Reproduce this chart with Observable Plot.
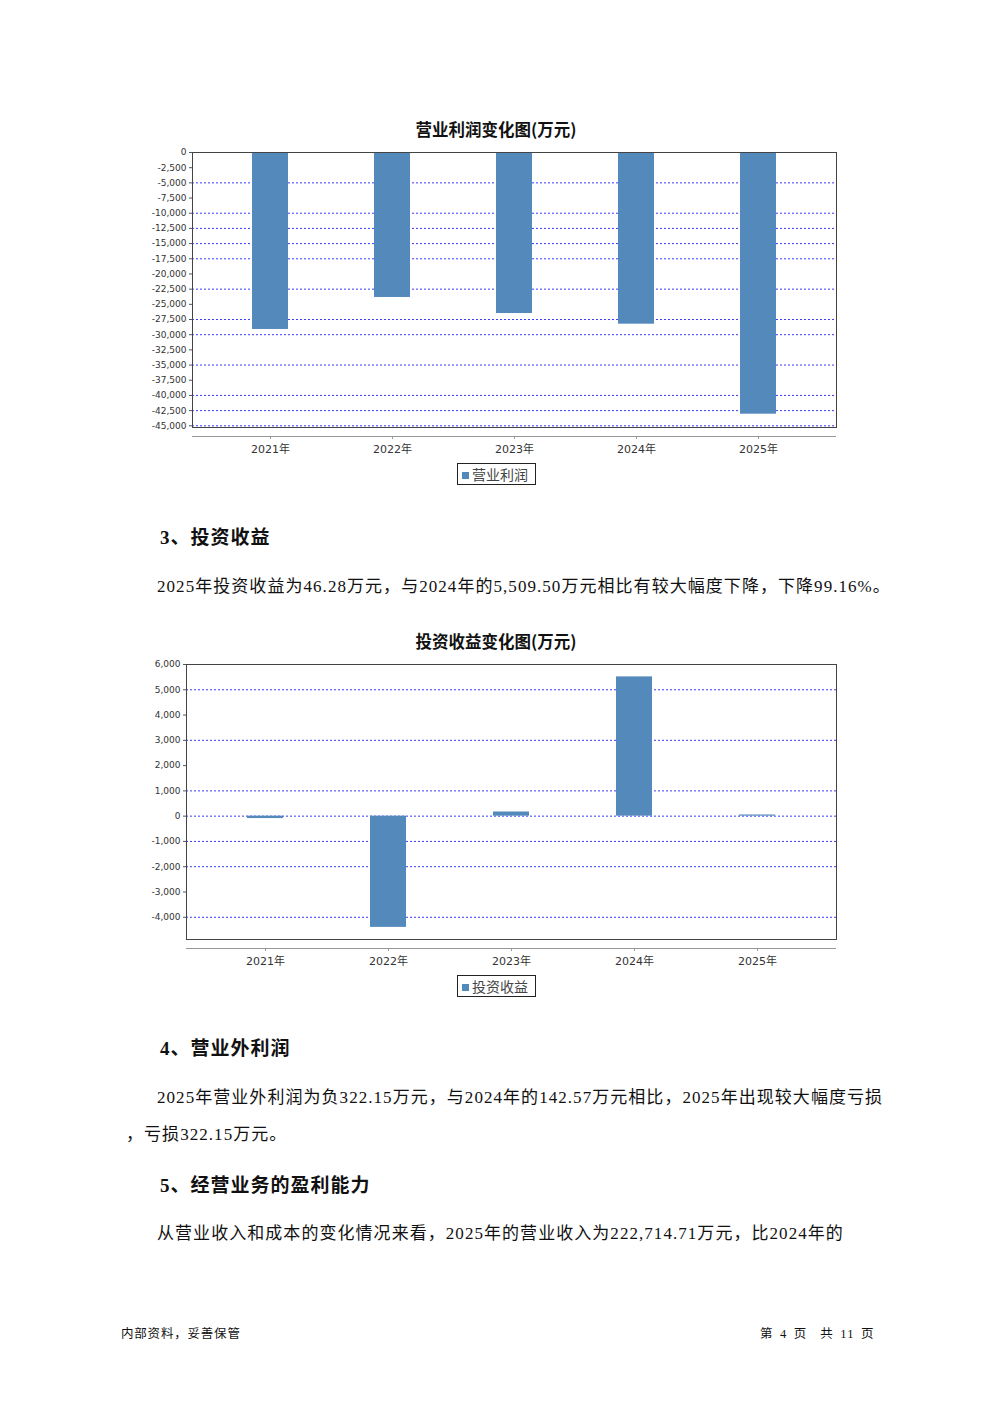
<!DOCTYPE html>
<html>
<head>
<meta charset="utf-8">
<script src="https://cdn.jsdelivr.net/npm/d3@7"></script>
<script src="https://cdn.jsdelivr.net/npm/@observablehq/plot@0.6"></script>
<style>
  html, body { margin: 0; padding: 0; background: #fff; }
  body { width: 992px; height: 1403px; position: relative; overflow: hidden; }
  .abs { position: absolute; white-space: nowrap; }
  .ctitle { font-family: "Noto Sans CJK SC", sans-serif; font-weight: bold; font-size: 16.5px; color: #111; width: 992px; left: 0; text-align: center; }
  .head { font-family: "Liberation Serif", "Noto Sans CJK SC", serif; font-weight: bold; font-size: 19px; letter-spacing: 1px; color: #111; }
  .body { font-family: "Liberation Serif", "Noto Sans CJK SC", serif; font-size: 17px; letter-spacing: 1.05px; color: #111; }
  .foot { font-family: "Liberation Serif", "Noto Sans CJK SC", serif; font-size: 12.5px; color: #111; }
  .legend { border: 1px solid #222; font-family: "Noto Sans CJK SC", sans-serif; font-size: 14px; color: #444; padding: 0 0 0 4px; box-sizing: border-box; }
  .legend span.sw { display: inline-block; width: 7px; height: 7px; background: #5489bc; margin-right: 3px; vertical-align: 1px; }
  svg { position: absolute; left: 0; }
</style>
</head>
<body>
<div class="abs ctitle" style="top:117px;">营业利润变化图(万元)</div>
<div id="c1"></div>
<div class="abs legend" style="left:457px; top:463px; width:79px; height:22px; line-height:20px;"><span class="sw"></span>营业利润</div>

<div class="abs head" style="left:160px; top:522px;">3、投资收益</div>
<div class="abs body" style="left:157px; top:572px;">2025年投资收益为46.28万元，与2024年的5,509.50万元相比有较大幅度下降，下降99.16%。</div>

<div class="abs ctitle" style="top:629px;">投资收益变化图(万元)</div>
<div id="c2"></div>
<div class="abs legend" style="left:457px; top:975px; width:79px; height:22px; line-height:20px;"><span class="sw"></span>投资收益</div>

<div class="abs head" style="left:160px; top:1033px;">4、营业外利润</div>
<div class="abs body" style="left:157px; top:1083px;">2025年营业外利润为负322.15万元，与2024年的142.57万元相比，2025年出现较大幅度亏损</div>
<div class="abs body" style="left:126px; top:1120px;">，亏损322.15万元。</div>

<div class="abs head" style="left:160px; top:1170px;">5、经营业务的盈利能力</div>
<div class="abs body" style="left:157px; top:1219px;">从营业收入和成本的变化情况来看，2025年的营业收入为222,714.71万元，比2024年的</div>

<div class="abs foot" style="left:121px; top:1323px; letter-spacing:0.8px;">内部资料，妥善保管</div>
<div class="abs foot" style="left:760px; top:1323px; letter-spacing:1.2px; word-spacing:2px;">第 4 页 &nbsp;共 11 页</div>

<script>
const years = ["2021年", "2022年", "2023年", "2024年", "2025年"];
const operatingProfit = [-29140, -23870, -26510, -28270, -43090];
const investmentIncome = [-95, -4400, 165, 5509.50, 46.28];

const ticks1 = [0, -2500, -5000, -7500, -10000, -12500, -15000, -17500, -20000, -22500, -25000, -27500, -30000, -32500, -35000, -37500, -40000, -42500, -45000];
const grid1 = [-5000, -10000, -12500, -15000, -17500, -22500, -27500, -30000, -35000, -40000, -42500, -45000];
const ticks2 = [6000, 5000, 4000, 3000, 2000, 1000, 0, -1000, -2000, -3000, -4000];
const grid2 = [5000, 3000, 1000, 0, -1000, -2000, -4000];

const barColor = "#5489bc";
const gridColor = "#3a3aff";
const fmt = d => d3.format(",")(d).replace("\u2212", "-");

function chart(values, yDomain, yTicks, grid, xRange, marginLeft) {
  const data = years.map((y, i) => ({year: y, value: values[i]}));
  return Plot.plot({
    width: 992,
    height: 320,
    marginLeft: marginLeft,
    marginRight: 156,
    marginTop: 12,
    marginBottom: 33,
    style: {fontFamily: "DejaVu Sans, 'Noto Sans CJK SC', sans-serif", fontSize: "9px", color: "#333", background: "transparent", overflow: "visible"},
    x: {domain: years, range: xRange, paddingInner: 0.707, paddingOuter: 0.3535, label: null},
    y: {domain: yDomain, label: null},
    marks: [
      Plot.ruleY(grid, {stroke: gridColor, strokeDasharray: "2,2", strokeWidth: 1}),
      Plot.barY(data, {x: "year", y: "value", fill: barColor}),
      Plot.frame({stroke: "#444", strokeWidth: 1}),
      Plot.ruleY([yDomain[0]], {dy: 9, stroke: "#999", strokeWidth: 1.2}),
      Plot.axisY({ticks: yTicks, tickSize: 3, tickPadding: 3, tickFormat: fmt, fontSize: 9, stroke: "#555"}),
      Plot.axisX({tickSize: 3, dy: 9, tickPadding: 6, fontSize: 11, stroke: "#999", fill: "#333"})
    ]
  });
}

const svg1 = chart(operatingProfit, [-45280, 0], ticks1, grid1, [206.6, 820.4], 192);
svg1.style.top = "140px";
document.getElementById("c1").appendChild(svg1);

const svg2 = chart(investmentIncome, [-4880, 6000], ticks2, grid2, [203.1, 819.1], 186);
svg2.style.top = "652px";
document.getElementById("c2").appendChild(svg2);
</script>
</body>
</html>
